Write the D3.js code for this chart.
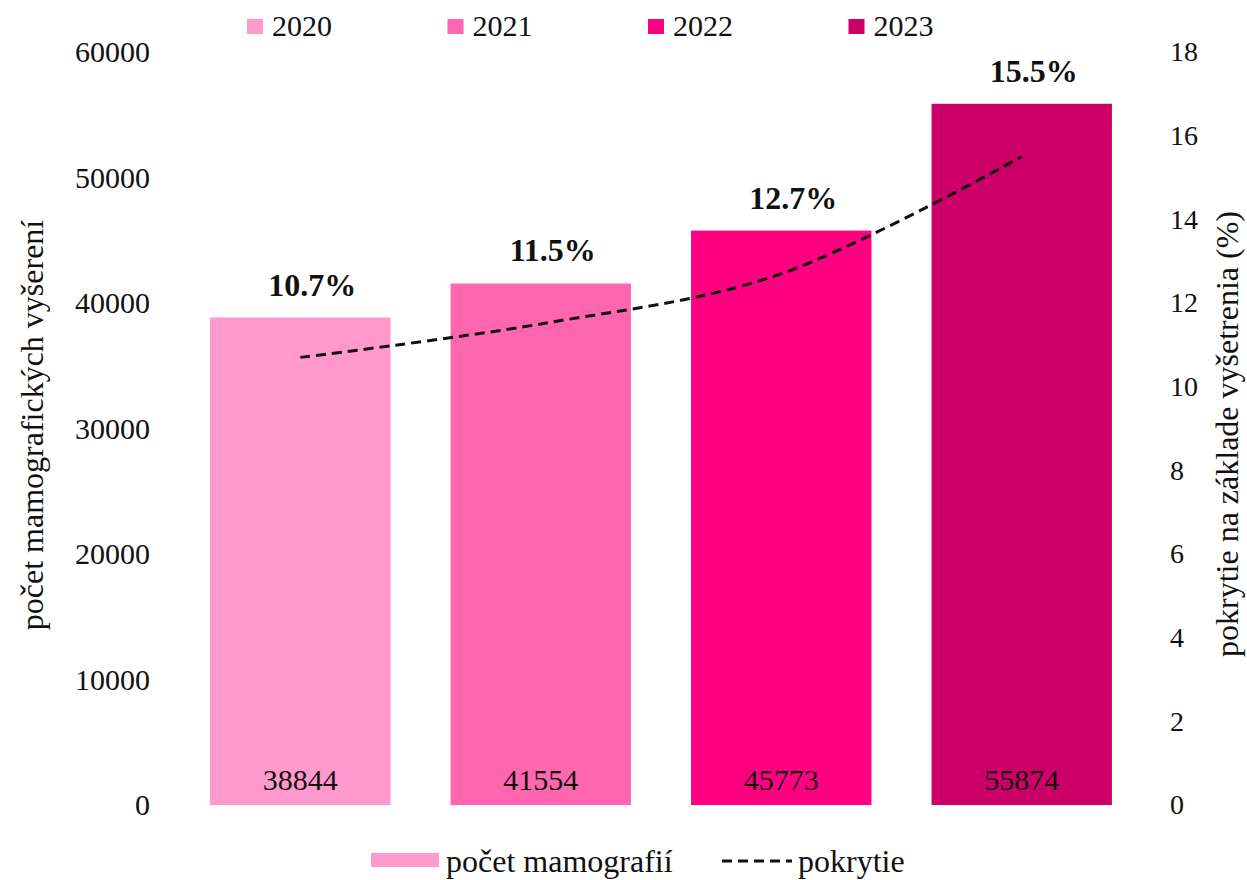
<!DOCTYPE html>
<html>
<head>
<meta charset="utf-8">
<script src="https://cdn.jsdelivr.net/npm/d3@7"></script>
<style>
  body { margin: 0; background: #fff; }
  svg text { font-family: "Liberation Serif", "Times New Roman", serif; fill: #111; }
</style>
</head>
<body>
<svg id="chart" width="1247" height="880"></svg>
<script>
var years = ["2020", "2021", "2022", "2023"];
var counts = [38844, 41554, 45773, 55874];
var coverage = [10.7, 11.5, 12.7, 15.5];
var colors = ["#ff99cc", "#ff66b0", "#ff0080", "#cc0066"];
var leftTicks = [0, 10000, 20000, 30000, 40000, 50000, 60000];
var rightTicks = [0, 2, 4, 6, 8, 10, 12, 14, 16, 18];

var serif = "Liberation Serif, Times New Roman, serif";
var svg = d3.select("#chart");

var x = d3.scaleBand()
    .domain(years)
    .range([180, 1142])
    .paddingInner(0.25)
    .paddingOuter(0.125);

var y = d3.scaleLinear().domain([0, 60000]).range([805, 52]);
var y2 = d3.scaleLinear().domain([0, 18]).range([805, 52]);

// left axis
var yAxis = svg.append("g")
    .attr("transform", "translate(150,0)")
    .call(d3.axisLeft(y).tickValues(leftTicks).tickSize(0).tickPadding(0).tickFormat(d3.format("d")));
yAxis.select(".domain").remove();
yAxis.attr("font-family", serif);
yAxis.selectAll("text").attr("font-size", "30px").attr("fill", "#111");

// right axis
var y2Axis = svg.append("g")
    .attr("transform", "translate(1170,0)")
    .call(d3.axisRight(y2).tickValues(rightTicks).tickSize(0).tickPadding(0));
y2Axis.select(".domain").remove();
y2Axis.attr("font-family", serif);
y2Axis.selectAll("text").attr("font-size", "28px").attr("fill", "#111");

// bars
svg.selectAll("rect.bar")
    .data(counts)
    .enter()
    .append("rect")
    .attr("class", "bar")
    .attr("x", function(d, i) { return x(years[i]); })
    .attr("y", function(d) { return y(d); })
    .attr("width", x.bandwidth())
    .attr("height", function(d) { return y(0) - y(d); })
    .attr("fill", function(d, i) { return colors[i]; });

svg.selectAll("text.val")
    .data(counts)
    .enter()
    .append("text")
    .attr("class", "val")
    .attr("x", function(d, i) { return x(years[i]) + x.bandwidth() / 2; })
    .attr("y", 790)
    .attr("text-anchor", "middle")
    .attr("font-size", "30px")
    .text(function(d) { return d; });

// coverage line
var line = d3.line()
    .x(function(d, i) { return x(years[i]) + x.bandwidth() / 2; })
    .y(function(d) { return y2(d); })
    .curve(d3.curveCardinal.tension(0));

svg.append("path")
    .datum(coverage)
    .attr("d", line)
    .attr("fill", "none")
    .attr("stroke", "#111")
    .attr("stroke-width", 3)
    .attr("stroke-dasharray", "10,6");

svg.selectAll("text.pct")
    .data(coverage)
    .enter()
    .append("text")
    .attr("class", "pct")
    .attr("x", function(d, i) { return x(years[i]) + x.bandwidth() / 2 + 12; })
    .attr("y", function(d, i) { return y(counts[i]) - 22; })
    .attr("text-anchor", "middle")
    .attr("font-size", "32px")
    .attr("font-weight", "bold")
    .text(function(d) { return d.toFixed(1) + "%"; });

// axis titles
svg.append("text")
    .attr("transform", "translate(43,425) rotate(-90)")
    .attr("text-anchor", "middle")
    .attr("font-size", "32px")
    .text("počet mamografických vyšerení");

svg.append("text")
    .attr("transform", "translate(1238,434) rotate(-90)")
    .attr("text-anchor", "middle")
    .attr("font-size", "32px")
    .text("pokrytie na základe vyšetrenia (%)");

// top legend
var topLeg = svg.selectAll("g.leg")
    .data(years)
    .enter()
    .append("g")
    .attr("class", "leg")
    .attr("transform", function(d, i) { return "translate(" + (247 + i * 200.5) + ",0)"; });
topLeg.append("rect")
    .attr("x", 0).attr("y", 19)
    .attr("width", 16).attr("height", 15)
    .attr("fill", function(d, i) { return colors[i]; });
topLeg.append("text")
    .attr("x", 25).attr("y", 36)
    .attr("font-size", "30px")
    .text(function(d) { return d; });

// bottom legend
svg.append("rect")
    .attr("x", 371).attr("y", 853)
    .attr("width", 68).attr("height", 14)
    .attr("fill", colors[0]);
svg.append("text")
    .attr("x", 446).attr("y", 872)
    .attr("font-size", "32px")
    .text("počet mamografií");
svg.append("line")
    .attr("x1", 722).attr("x2", 792)
    .attr("y1", 861).attr("y2", 861)
    .attr("stroke", "#111")
    .attr("stroke-width", 3)
    .attr("stroke-dasharray", "10,6");
svg.append("text")
    .attr("x", 798).attr("y", 872)
    .attr("font-size", "32px")
    .text("pokrytie");
</script>
</body>
</html>
